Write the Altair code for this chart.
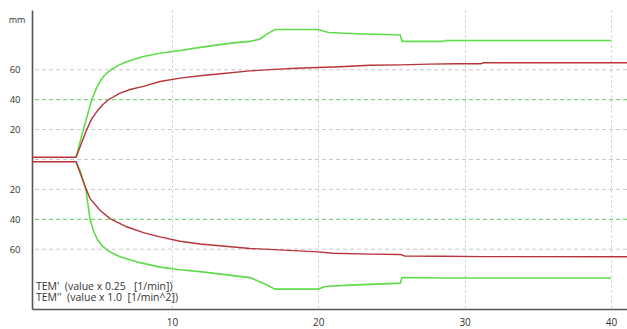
import altair as alt
import pandas as pd

# Upper / lower displacement curves (mm) over time (min)
red_up_t = [0.43, 3.44, 3.7, 4.17, 4.5, 4.96, 5.3, 5.65, 6.45, 7.2, 8.04, 9.18, 10.55, 11.92,
            13.5, 15.33, 17.0, 18.5, 20.0, 21.5, 23.5, 25.6, 27.6, 29.5, 31.1, 31.3, 35.0, 41.1]
red_up_v = [1.5, 1.5, 8, 20, 27, 33.3, 37, 40, 44.4, 47, 48.9, 52.2, 54.4, 56,
            57.5, 59.3, 60.3, 61, 61.5, 62, 63, 63.3, 63.8, 64, 64, 64.7, 64.7, 64.7]

red_lo_t = [0.43, 3.44, 4.1, 4.39, 5.08, 5.76, 6.9, 8.04, 9.18, 10.55, 11.92, 15.33, 20.0,
            21.0, 23.5, 25.6, 25.9, 28.5, 31.2, 41.1]
red_lo_v = [-1.5, -1.5, -19, -26, -33.9, -39.5, -45, -48.9, -51.8, -54.7, -56.5, -59.5, -61.8,
            -62.7, -63.3, -63.5, -64.5, -64.7, -65, -65]

green_up_t = [3.44, 3.94, 4.51, 4.85, 5.15, 5.5, 5.9, 6.4, 6.9, 8.04, 9.18, 10.55, 11.92, 14.17,
              15.33, 16.0, 16.5, 17.04, 20.0, 20.7, 22.2, 25.6, 25.72, 28.5, 28.7, 40.0]
green_up_v = [1.5, 20, 40, 48, 53.5, 57.5, 60.5, 63.3, 65.4, 68.9, 71.1, 72.9, 75, 78,
              79, 80.5, 84, 87, 87, 85, 84.3, 83.3, 79, 79, 79.6, 79.6]

green_lo_t = [3.44, 3.7, 4.1, 4.39, 4.62, 4.9, 5.2, 5.6, 6.0, 6.45, 7.81, 9.18, 10.55, 11.92,
              15.33, 16.4, 17.04, 20.0, 20.45, 22.2, 25.6, 25.72, 28.7, 40.0]
green_lo_v = [-1.5, -7, -19.3, -39.5, -47.5, -53.5, -57.5, -60.8, -63, -65, -69, -72, -73.7, -75,
              -79, -83.5, -86.7, -86.7, -85, -84, -82.7, -78.9, -79.3, -79.3]

grid_gray = [-60, -20, 0, 20, 60]
grid_green = [-40, 40]
x_ticks = [10, 20, 30, 40]
y_ticks = [-60, -40, -20, 20, 40, 60]

NBSP = "\u00a0"
legend_lines = [
    f"TEM'{NBSP}{NBSP}(value x 0.25{NBSP}{NBSP}{NBSP}[1/min])",
    f"TEM''{NBSP}{NBSP}(value x 1.0{NBSP}{NBSP}[1/min^2])",
]

frames = []
for name, t, v in [("red_up", red_up_t, red_up_v), ("red_lo", red_lo_t, red_lo_v),
                   ("green_up", green_up_t, green_up_v), ("green_lo", green_lo_t, green_lo_v)]:
    frames.append(pd.DataFrame({"t": t, "v": v, "curve": name, "idx": range(len(t))}))
df = pd.concat(frames, ignore_index=True)
df["col"] = df["curve"].str.split("_").str[0]

FONT = "Open Sans"
x_scale = alt.Scale(domain=[0.43, 41.1], nice=False, zero=False)
y_scale = alt.Scale(domain=[-100, 100], nice=False, zero=False)

x_enc = alt.X("t:Q", scale=x_scale, title=None,
              axis=alt.Axis(values=x_ticks, grid=True, gridDash=[2, 3], gridColor="#c4c4c4",
                            tickSize=0, labelPadding=8, labelFontSize=10, labelColor="#333",
                            labelFont=FONT, domainColor="#555", domainWidth=1.6))
y_axis = alt.Axis(values=y_ticks, grid=False, labelExpr="abs(datum.value)",
                  tickSize=0, labelPadding=12, labelFontSize=9.5, labelColor="#333",
                  labelFont=FONT, domainColor="#555", domainWidth=1.6)
y_enc = alt.Y("v:Q", scale=y_scale, title=None, axis=y_axis)

gray_rules = alt.Chart(pd.DataFrame({"v": grid_gray})).mark_rule(
    color="#c8c8c8", strokeDash=[4, 3], strokeWidth=1
).encode(y=y_enc)

green_rules = alt.Chart(pd.DataFrame({"v": grid_green})).mark_rule(
    color="#5ccc5c", strokeDash=[4, 3], strokeWidth=1
).encode(y=y_enc)

base = alt.Chart(df).encode(x=x_enc, y=y_enc, detail="curve:N", order="idx:Q")
green_lines = base.transform_filter(alt.datum.col == "green").mark_line(
    color="#5edc4a", strokeWidth=1.6)
red_lines = base.transform_filter(alt.datum.col == "red").mark_line(
    color="#b8343a", strokeWidth=1.4)

unit_label = alt.Chart(pd.DataFrame({"s": ["mm"]})).mark_text(
    font=FONT, fontSize=9, color="#333", align="center", baseline="middle"
).encode(x=alt.value(-15), y=alt.value(10), text="s:N")

legend_layers = []
for i, line in enumerate(legend_lines):
    legend_layers.append(
        alt.Chart(pd.DataFrame({"s": [line]})).mark_text(
            font=FONT, fontSize=10.5, color="#333", align="left", baseline="middle"
        ).encode(x=alt.value(4), y=alt.value(277 + 11 * i), text="s:N")
    )

chart = alt.layer(
    gray_rules, green_rules, green_lines, red_lines, unit_label, *legend_layers
).properties(
    width=595, height=299,
    padding={"left": 32, "top": 10, "right": 0, "bottom": 20},
    autosize=alt.AutoSizeParams(type="none"),
).configure_view(stroke=None)

chart.save("out.html", embed_options={"renderer": "svg", "actions": False})
